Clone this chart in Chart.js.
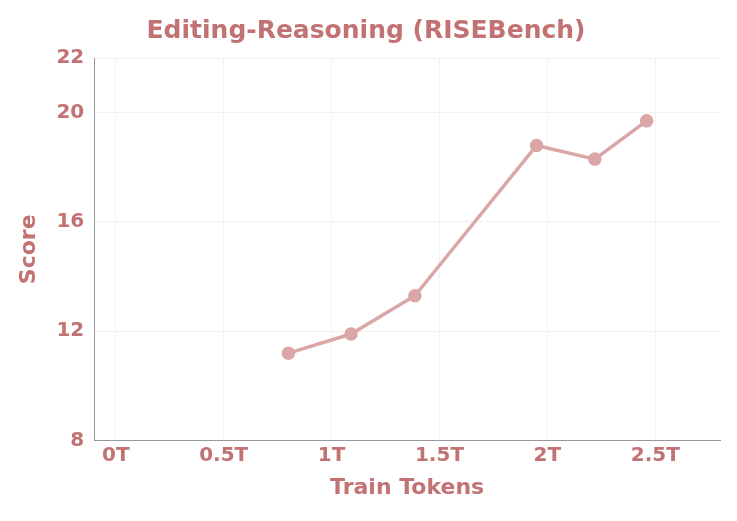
<!DOCTYPE html>
<html>
<head>
<meta charset="utf-8">
<script src="https://cdn.jsdelivr.net/npm/chart.js@4"></script>
<style>
  body { margin: 0; background: #fff; }
  #wrap { width: 737px; height: 521px; }
</style>
</head>
<body>
<div id="wrap"><canvas id="c"></canvas></div>
<script>
const TOKENS = [0.80, 1.09, 1.386, 1.95, 2.22, 2.46];   // trillions
const SCORES = [11.2, 11.9, 13.3, 18.8, 18.3, 19.7];
const X_TICKS = [0, 0.5, 1, 1.5, 2, 2.5];
const X_LABELS = ["0T", "0.5T", "1T", "1.5T", "2T", "2.5T"];
const Y_TICKS = [8, 12, 16, 20, 22];

const TEXT = "#c27272";
const LINE = "#dba6a6";
const font = (s) => ({ family: "DejaVu Sans", size: s, weight: "bold" });

new Chart(document.getElementById("c"), {
    type: "scatter",
    data: {
        datasets: [{
            data: TOKENS.map((x, i) => ({ x: x, y: SCORES[i] })),
            showLine: true,
            borderColor: LINE,
            backgroundColor: LINE,
            borderWidth: 3.5,
            pointRadius: 5,
            pointHoverRadius: 5
        }]
    },
    options: {
        responsive: true,
        maintainAspectRatio: false,
        animation: false,
        layout: { padding: { left: 12, right: 17, bottom: 16, top: 2 } },
        plugins: {
            legend: { display: false },
            tooltip: { enabled: false },
            title: {
                display: true,
                text: "Editing-Reasoning (RISEBench)",
                color: TEXT,
                font: font(25),
                padding: { top: 14, bottom: 12 }
            }
        },
        scales: {
            x: {
                type: "linear",
                min: -0.1,
                max: 2.8,
                afterBuildTicks: (ax) => { ax.ticks = X_TICKS.map(v => ({ value: v })); },
                ticks: {
                    color: TEXT,
                    font: font(20),
                    callback: (v) => X_LABELS[X_TICKS.indexOf(v)] ?? ""
                },
                grid: { color: "#f2f2f2", drawTicks: false },
                border: { color: "#999" },
                title: { display: true, text: "Train Tokens", color: TEXT, font: font(22) }
            },
            y: {
                min: 8,
                max: 22,
                afterBuildTicks: (ax) => { ax.ticks = Y_TICKS.map(v => ({ value: v })); },
                ticks: { color: TEXT, font: font(20), padding: 10 },
                grid: { color: "#f2f2f2", drawTicks: false },
                border: { color: "#999" },
                title: { display: true, text: "Score", color: TEXT, font: font(22) }
            }
        }
    }
});
</script>
</body>
</html>
